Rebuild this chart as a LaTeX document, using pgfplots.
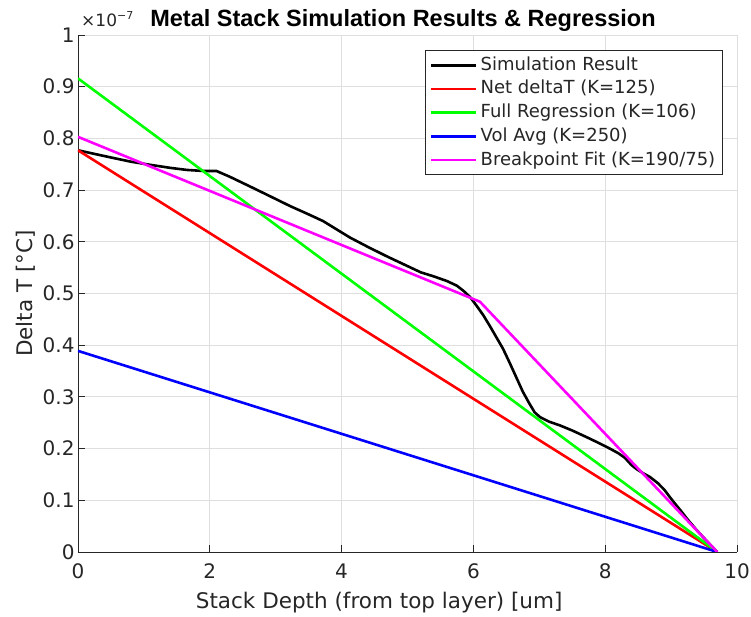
\documentclass[border=0pt]{standalone}
\usepackage{fontspec}
\setmainfont{DejaVu Sans}
\newfontfamily\titlefont{Liberation Sans}
\usepackage{pgfplots}
\pgfplotsset{compat=1.18}
\definecolor{axgray}{gray}{0.15}
\definecolor{gridgray}{gray}{0.87}
\definecolor{mred}{rgb}{1,0,0}
\definecolor{mgreen}{rgb}{0,1,0}
\definecolor{mblue}{rgb}{0,0,1}
\definecolor{mmag}{rgb}{1,0,1}
\begin{document}
\begin{tikzpicture}[x=1bp,y=1bp]
\path[use as bounding box] (-78,-65) rectangle (673,552);
\begin{axis}[
  at={(0,0)}, anchor=south west,
  scale only axis, width=659bp, height=517bp,
  xmin=0, xmax=10, ymin=0, ymax=1,
  xtick={0,2,4,6,8,10},
  ytick={0,0.1,0.2,0.3,0.4,0.5,0.6,0.7,0.8,0.9,1},
  yticklabels={0,0.1,0.2,0.3,0.4,0.5,0.6,0.7,0.8,0.9,1},
  axis x line*=bottom, axis y line*=left,
  axis line style={axgray, line width=0.8bp, -},
  tick align=inside, major tick length=7bp,
  tick style={axgray, line width=0.8bp},
  grid=major, major grid style={gridgray, line width=0.8bp},
  /pgf/number format/assume math mode=true,
  ticklabel style={font=\fontsize{20bp}{24bp}\selectfont, text=axgray},
  xticklabel style={yshift=-8bp},
  xlabel={Stack Depth (from top layer) [um]},
  ylabel={Delta T [°C]},
  label style={font=\fontsize{21.5bp}{25bp}\selectfont, text=axgray},
  xlabel style={at={(axis description cs:0.457,-0.110)}, anchor=base},
  ylabel style={at={(axis description cs:-0.0683,0.5)}, anchor=base, rotate=0},
  legend style={at={(axis description cs:0.979,0.971)}, anchor=north east,
    draw=axgray, line width=0.8bp, fill=white,
    font=\fontsize{18bp}{22bp}\selectfont, text=axgray,
    inner xsep=4.5bp, inner ysep=3bp, row sep=0bp,
    cells={anchor=west},
    nodes={inner ysep=2.85bp, inner xsep=3bp, text height=14bp, text depth=4bp}},
  legend image code/.code={\draw[#1, mark=none] (0bp,0bp) -- (45bp,0bp);},
  every axis plot/.append style={line width=2.6bp, mark=none, line join=round},
]
\addplot[black] coordinates {
(0,0.777) (0.25,0.770) (0.54,0.762) (0.8,0.755) (1.09,0.749) (1.4,0.743)
(1.65,0.739) (1.9,0.737) (2.1,0.737) (2.3,0.726) (2.61,0.707) (2.9,0.689)
(3.22,0.669) (3.5,0.653) (3.72,0.640) (3.95,0.622) (4.13,0.608) (4.4,0.590)
(4.7,0.571) (5.0,0.553) (5.2,0.541) (5.4,0.533) (5.6,0.524) (5.75,0.515)
(5.85,0.505) (5.95,0.493) (6.05,0.476) (6.15,0.458) (6.25,0.437) (6.35,0.415)
(6.45,0.393) (6.55,0.366) (6.65,0.338) (6.75,0.310) (6.85,0.287) (6.93,0.270)
(7.01,0.261) (7.15,0.252) (7.31,0.245) (7.5,0.235) (7.72,0.222) (7.9,0.211)
(8.07,0.200) (8.2,0.191) (8.3,0.182) (8.4,0.168) (8.48,0.160) (8.58,0.152)
(8.68,0.145) (8.8,0.133) (8.9,0.120) (8.97,0.108) (9.05,0.095) (9.14,0.081)
(9.25,0.063) (9.39,0.042) (9.55,0.020) (9.7,0)};
\addlegendentry{Simulation Result}
\addplot[mred] coordinates {(0,0.777) (9.7,0)};
\addlegendentry{Net deltaT (K=125)}
\addplot[mgreen] coordinates {(0,0.916) (9.7,0)};
\addlegendentry{Full Regression (K=106)}
\addplot[mblue] coordinates {(0,0.389) (9.7,0)};
\addlegendentry{Vol Avg (K=250)}
\addplot[mmag] coordinates {(0,0.803) (6.1,0.484) (9.7,0)};
\addlegendentry{Breakpoint Fit (K=190/75)}
\end{axis}
\node[anchor=base, font=\titlefont\bfseries\fontsize{23.5bp}{28bp}\selectfont, text=black, inner sep=0pt] at (325,525) {Metal Stack Simulation Results \& Regression};
\node[anchor=base west, font=\fontsize{17bp}{20bp}\selectfont, text=axgray, inner sep=0pt] at (3,525) {×10\raisebox{0.45em}{\fontsize{11bp}{12bp}\selectfont −7}};
\end{tikzpicture}
\end{document}
